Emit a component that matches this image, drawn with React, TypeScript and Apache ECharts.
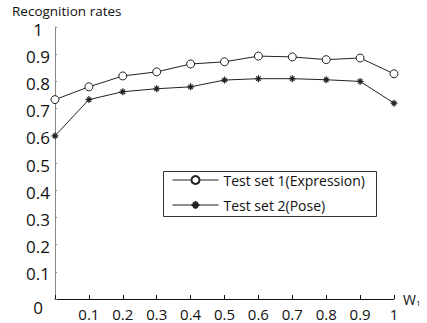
import React, { useEffect, useRef } from "react";
import * as echarts from "echarts";

const wValues = [0, 0.1, 0.2, 0.3, 0.4, 0.5, 0.6, 0.7, 0.8, 0.9, 1];
const expressionRates = [0.733, 0.78, 0.82, 0.835, 0.864, 0.872, 0.893, 0.89, 0.88, 0.886, 0.828];
const poseRates = [0.6, 0.733, 0.762, 0.773, 0.78, 0.805, 0.81, 0.81, 0.806, 0.8, 0.72];
const seriesNames = ["Test set 1(Expression)", "Test set 2(Pose)"];

const FONT = "'Open Sans', 'Noto Sans', sans-serif";
const ASTERISK = "path://M5,0L5,10M0,5L10,5M1.8,1.8L8.2,8.2M1.8,8.2L8.2,1.8";

export default function App() {
  const ref = useRef<HTMLDivElement>(null);
  useEffect(() => {
    if (!ref.current) return;
    const chart = echarts.init(ref.current, null, { renderer: "svg" });
    chart.setOption({
      animation: false,
      backgroundColor: "#fff",
      textStyle: { fontFamily: FONT },
      title: {
        text: "Recognition rates",
        left: 12,
        top: 3,
        padding: 0,
        textStyle: { fontFamily: FONT, fontSize: 13.5, fontWeight: "normal", color: "#111", lineHeight: 15 },
      },
      grid: { left: 55, right: 33, top: 27, bottom: 24, containLabel: false },
      legend: {
        orient: "vertical",
        left: 163,
        top: 173,
        itemWidth: 46,
        itemHeight: 10,
        itemGap: 11,
        padding: [0, 0, 0, 9],
        lineStyle: { width: 1 },
        textStyle: { fontFamily: FONT, fontSize: 14, color: "#111" },
        data: seriesNames,
      },
      graphic: [
        {
          type: "rect",
          shape: { x: 163.5, y: 171.5, width: 213, height: 45 },
          style: { fill: "none", stroke: "#333", lineWidth: 1 },
          z: 100,
        },
      ],
      xAxis: {
        type: "value",
        min: 0,
        max: 1,
        interval: 0.1,
        name: "{w|W}{s|1}",
        nameLocation: "end",
        nameGap: 9,
        nameTextStyle: {
          rich: {
            w: { fontFamily: FONT, fontSize: 14, color: "#111" },
            s: { fontFamily: FONT, fontSize: 8, color: "#111", padding: [6, 0, 0, 0] },
          },
        },
        axisLine: { lineStyle: { color: "#111", width: 1 } },
        axisTick: { inside: true, length: 4, lineStyle: { color: "#111" } },
        axisLabel: {
          fontFamily: FONT,
          fontSize: 15,
          lineHeight: 14,
          color: "#111",
          margin: 8,
          formatter: (v: number) => (v === 0 ? "" : String(Math.round(v * 10) / 10)),
        },
        splitLine: { show: false },
      },
      yAxis: {
        type: "value",
        min: 0,
        max: 1,
        interval: 0.1,
        axisLine: { show: true, lineStyle: { color: "#888", width: 1 } },
        axisTick: { inside: true, length: 2, lineStyle: { color: "#888" } },
        axisLabel: {
          fontFamily: FONT,
          fontSize: 17,
          lineHeight: 14,
          color: "#111",
          align: "center",
          margin: 17,
          padding: [4, 0, 0, 0],
          formatter: (v: number) => (v === 0 ? "{z|0}" : String(Math.round(v * 10) / 10)),
          rich: { z: { fontFamily: FONT, fontSize: 17, lineHeight: 14, color: "#111", padding: [12, 0, 0, 0] } },
        },
        splitLine: { show: false },
      },
      series: [
        {
          name: seriesNames[0],
          type: "line",
          data: wValues.map((w, i) => [w, expressionRates[i]]),
          symbol: "circle",
          symbolSize: 8,
          lineStyle: { color: "#222", width: 1 },
          itemStyle: { color: "#fff", borderColor: "#222", borderWidth: 1 },
        },
        {
          name: seriesNames[1],
          type: "line",
          data: wValues.map((w, i) => [w, poseRates[i]]),
          symbol: ASTERISK,
          symbolSize: 7,
          lineStyle: { color: "#222", width: 1 },
          itemStyle: { color: "#222", borderColor: "#222", borderWidth: 1.2 },
        },
      ],
    });
    return () => chart.dispose();
  }, []);
  return <div ref={ref} style={{ width: 427, height: 323, position: "absolute", left: 0, top: 0 }} />;
}
